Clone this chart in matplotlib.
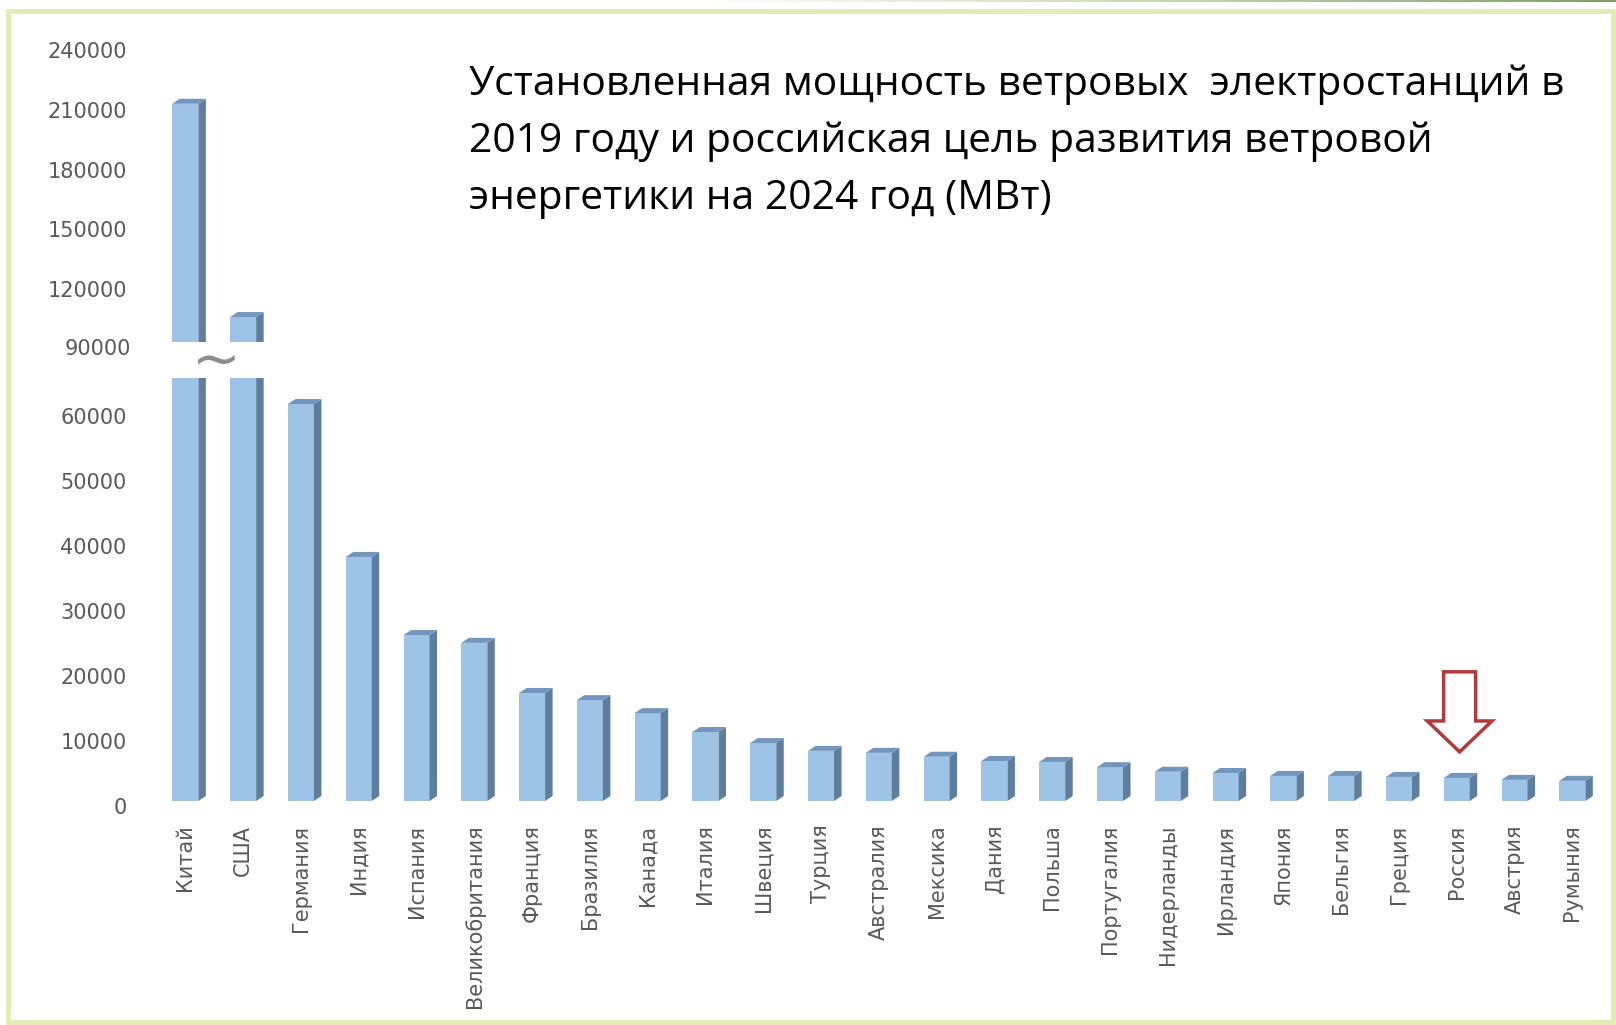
import matplotlib
matplotlib.use("Agg")
import matplotlib.pyplot as plt
from matplotlib.patches import Polygon, Rectangle
import matplotlib.transforms as mtrans
from matplotlib.colors import LinearSegmentedColormap
import numpy as np

# ---------------- data ----------------
countries = ["Китай", "США", "Германия", "Индия", "Испания", "Великобритания",
             "Франция", "Бразилия", "Канада", "Италия", "Швеция", "Турция",
             "Австралия", "Мексика", "Дания", "Польша", "Португалия",
             "Нидерланды", "Ирландия", "Япония", "Бельгия", "Греция",
             "Россия", "Австрия", "Румыния"]
capacity_mw = [213000, 106000, 61000, 37500, 25500, 24300,
               16600, 15500, 13500, 10600, 8900, 7700,
               7400, 6800, 6150, 6000, 5200,
               4500, 4300, 3850, 3850, 3700,
               3550, 3250, 3100]
lower_ticks = [0, 10000, 20000, 30000, 40000, 50000, 60000]
upper_ticks = [90000, 120000, 150000, 180000, 210000, 240000]
highlight = "Россия"
title_lines = ["Установленная мощность ветровых  электростанций в",
               "2019 году и российская цель развития ветровой",
               "энергетики на 2024 год (МВт)"]

# ---------------- style ----------------
FRONT = "#9DC3E6"
SIDE = "#5F7E9E"
TOP = "#7396BF"
TICK_COLOR = "#595959"
ARROW_COLOR = "#B23A3A"
TICK_FONT = ["DejaVu Sans"]
TITLE_FONT = ["Open Sans", "DejaVu Sans"]

W, H = 1616, 1025
fig = plt.figure(figsize=(W / 100, H / 100), dpi=100)
fig.patch.set_facecolor("white")


def px_axes(left, top, right, bottom):
    return fig.add_axes([left / W, 1 - bottom / H, (right - left) / W, (bottom - top) / H])


AX_L, AX_R = 142, 1607
XLIM = (-0.75, 24.6)
lo_box = (AX_L, 378, AX_R, 801)
hi_box = (AX_L, 40, AX_R, 342)
ax_lo = px_axes(*lo_box)
ax_hi = px_axes(*hi_box)
ax_lo.set_ylim(0, 65000)
ax_hi.set_ylim(93500, 245000)

x = np.arange(len(countries))
bar_w = 0.45
x_per_px = (XLIM[1] - XLIM[0]) / (AX_R - AX_L)


def draw_bars(ax, box):
    y0, y1 = ax.get_ylim()
    y_per_px = (y1 - y0) / (box[3] - box[1])
    ddx = 7.5 * x_per_px
    ddy = 5 * y_per_px
    ax.bar(x, capacity_mw, width=bar_w, color=FRONT, edgecolor="none", zorder=2)
    for i, v in zip(x, capacity_mw):
        xl, xr = i - bar_w / 2, i + bar_w / 2
        ax.add_patch(Polygon([(xr, 0), (xr + ddx, ddy), (xr + ddx, v + ddy), (xr, v)],
                             closed=True, fc=SIDE, ec="none", zorder=2))
        ax.add_patch(Polygon([(xl, v), (xl + ddx, v + ddy), (xr + ddx, v + ddy), (xr, v)],
                             closed=True, fc=TOP, ec="none", zorder=2))
    ax.set_xlim(*XLIM)
    for s in ax.spines.values():
        s.set_visible(False)
    ax.tick_params(length=0, colors=TICK_COLOR, labelsize=15, pad=11)
    ax.set_facecolor("none")


draw_bars(ax_lo, lo_box)
draw_bars(ax_hi, hi_box)

ax_lo.set_yticks(lower_ticks)
ax_lo.set_yticklabels([str(t) for t in lower_ticks], family=TICK_FONT, color=TICK_COLOR)
shift_down = mtrans.ScaledTranslation(0, -5 / 100, fig.dpi_scale_trans)
for lab in ax_lo.get_yticklabels():
    lab.set_transform(lab.get_transform() + shift_down)
ax_lo.set_xticks(x)
ax_lo.set_xticklabels(countries, rotation=90, va="top", ha="center",
                      family=TICK_FONT, color=TICK_COLOR, fontsize=15)
ax_lo.tick_params(axis="x", pad=17)

vis_upper = [t for t in upper_ticks if t >= ax_hi.get_ylim()[0]]
ax_hi.set_yticks(vis_upper)
ax_hi.set_yticklabels([str(t) for t in vis_upper], family=TICK_FONT, color=TICK_COLOR)
ax_hi.set_xticks([])
# the 90000 label sits just under the upper segment
trans = mtrans.blended_transform_factory(ax_hi.transAxes, ax_hi.transData)
for t in upper_ticks:
    if t < ax_hi.get_ylim()[0]:
        ax_hi.text(-11 / (AX_R - AX_L), t, str(t), transform=trans, ha="right",
                   va="center", fontsize=15, color=TICK_COLOR, family=TICK_FONT, clip_on=False)

# axis break symbol
fig.text(216 / W, 1 - 361 / H, "~", fontsize=42, color="#8C8C8C", ha="center", va="center",
         family=["DejaVu Sans"])

# hollow arrow above Russia
ri = countries.index(highlight)
rv = capacity_mw[ri]
cx = ri + 0.05
tip, head_base, shaft_top = rv + 4000, rv + 8750, rv + 16300
sh, hh = 0.277, 0.56
arrow = Polygon([(cx - sh, shaft_top), (cx + sh, shaft_top), (cx + sh, head_base),
                 (cx + hh, head_base), (cx, tip), (cx - hh, head_base),
                 (cx - sh, head_base)], closed=True, fc="white", ec=ARROW_COLOR,
                lw=2.5, joinstyle="miter", zorder=3)
ax_lo.add_patch(arrow)

# title
texts = []
baselines = [95, 152, 209]
for line, b in zip(title_lines, baselines):
    texts.append(fig.text(469 / W, 1 - b / H, line, fontsize=32, family=TITLE_FONT,
                          va="baseline", ha="left", color="black"))
fig.canvas.draw()
bw = texts[0].get_window_extent().width
fs = 32 * 1095 / bw
for t in texts:
    t.set_fontsize(fs)

# slide frame
frame = Rectangle((8 / W, 1 - 1022 / H), (1613 - 8) / W, (1022 - 11) / H,
                  transform=fig.transFigure, fill=False, ec="#E3ECB3", lw=3.5, zorder=0)
fig.patches.append(frame)
gax = fig.add_axes([700 / W, 1 - 2 / H, (W - 700) / W, 2 / H])
grad = np.linspace(0, 1, 256)[None, :]
cmap = LinearSegmentedColormap.from_list("g", ["#FFFFFF", "#C9D9B0", "#7E9E62"])
gax.imshow(grad, aspect="auto", cmap=cmap)
gax.axis("off")

fig.savefig("out.png", dpi=100, facecolor="white")
